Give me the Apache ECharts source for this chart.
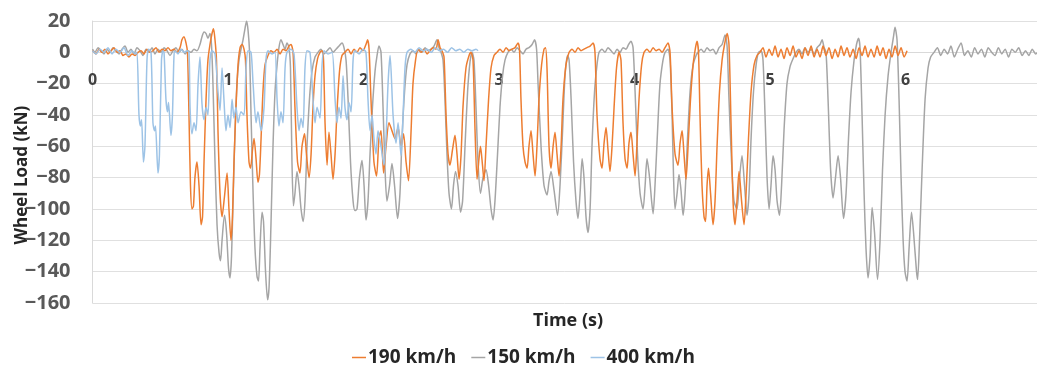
<!DOCTYPE html>
<html>
<head>
<meta charset="utf-8">
<script src="https://cdn.jsdelivr.net/npm/echarts@6/dist/echarts.min.js"></script>
<style>
html,body{margin:0;padding:0;background:#fff;}
#c{width:1037px;height:371px;}
</style>
</head>
<body>
<div id="c"></div>
<script>
// Time (s) and wheel load (kN) pairs
const seriesNames = ['190 km/h', '150 km/h', '400 km/h'];
const yTicks = [-160, -140, -120, -100, -80, -60, -40, -20, 0, 20];
const xTicks = [0, 1, 2, 3, 4, 5, 6];

const load400 = [
[0,1],[0.026,-1],[0.055,2],[0.085,0],[0.114,3],[0.144,-1],[0.173,2],[0.203,0],[0.232,3],[0.262,-2],[0.292,1],[0.314,-1],[0.328,0],
[0.343,-40],[0.354,-47],[0.362,-43],[0.376,-70],[0.387,-60],[0.402,-5],[0.413,2],[0.432,0],
[0.446,-45],[0.458,-50],[0.465,-47],[0.483,-77],[0.494,-65],[0.509,-5],[0.520,1],[0.528,0],
[0.542,-30],[0.554,-38],[0.561,-32],[0.579,-53],[0.590,-40],[0.601,-3],[0.609,1],
[0.631,-1],[0.653,2],[0.675,0],[0.697,1],[0.712,0],
[0.720,-35],[0.734,-52],[0.749,-45],[0.764,-50],[0.779,-20],[0.793,-3],
[0.808,-33],[0.823,-43],[0.838,-35],[0.852,-40],[0.867,-5],[0.882,1],[0.904,-1],
[0.926,-25],[0.941,-37],[0.956,-10],[0.970,-30],[0.985,-50],[1.000,-40],[1.015,-48],[1.030,-30],
[1.044,-42],[1.059,-35],[1.074,-45],[1.096,-38],[1.118,-40],[1.133,-10],[1.148,1],[1.170,0],
[1.185,-20],[1.207,-45],[1.221,-38],[1.244,-50],[1.266,-35],[1.280,-5],[1.295,1],[1.325,-1],[1.347,0],
[1.362,-30],[1.376,-47],[1.391,-38],[1.406,-45],[1.421,-10],[1.435,0],[1.465,2],[1.487,-1],
[1.509,-35],[1.524,-50],[1.539,-42],[1.554,-48],[1.568,-10],[1.583,1],[1.605,0],
[1.627,-30],[1.642,-45],[1.657,-35],[1.679,-42],[1.694,-8],[1.708,1],[1.738,-1],[1.768,0],
[1.790,-30],[1.804,-45],[1.819,-35],[1.834,-42],[1.849,-15],[1.863,-35],[1.878,-43],[1.893,-32],[1.908,-38],[1.923,-5],
[1.937,1],[1.967,-1],[1.996,2],[2.018,0],
[2.033,-30],[2.048,-50],[2.063,-40],[2.077,-55],[2.092,-65],[2.107,-50],[2.129,-60],[2.151,-72],[2.166,-55],[2.181,-20],[2.196,-2],
[2.218,-40],[2.240,-58],[2.255,-45],[2.277,-66],[2.292,-40],[2.306,-10],[2.321,0],
[2.35,2],[2.38,0],[2.41,3],[2.44,1],[2.47,2],[2.50,0],[2.53,3],[2.56,1],[2.59,2],[2.62,0],[2.65,3],[2.68,1],[2.71,2],[2.74,0],[2.77,2],[2.80,1],[2.83,2],[2.845,1]
];

const load190 = [
[0,1],[0.026,-1],[0.048,2],[0.070,0],[0.092,2],[0.114,-1],[0.137,1],[0.159,3],[0.181,0],[0.203,1],[0.225,-2],[0.247,-1],[0.269,-3],[0.292,-1],[0.314,-2],[0.336,0],[0.358,1],[0.380,-1],[0.402,2],[0.424,0],[0.446,1],[0.469,3],[0.491,0],[0.513,2],[0.535,1],[0.557,3],[0.579,1],[0.601,2],[0.624,0],[0.646,3],[0.660,8],[0.675,10],[0.690,6],[0.701,0],
[0.712,-40],[0.723,-85],[0.734,-100],[0.745,-98],[0.756,-80],[0.771,-70],[0.786,-85],[0.801,-110],[0.812,-105],[0.823,-70],[0.838,-30],[0.852,-5],[0.867,5],[0.882,12],[0.893,15],[0.904,8],[0.915,-5],
[0.926,-50],[0.941,-90],[0.956,-105],[0.974,-92],[0.993,-77],[1.007,-100],[1.022,-120],[1.033,-105],[1.044,-70],[1.059,-35],[1.074,-8],[1.089,3],[1.103,5],[1.118,2],[1.129,-5],
[1.140,-40],[1.155,-70],[1.166,-74],[1.181,-62],[1.192,-55],[1.207,-68],[1.221,-83],[1.232,-78],[1.244,-55],[1.258,-25],[1.273,-8],[1.295,-2],[1.317,1],[1.339,0],[1.362,2],[1.384,-1],[1.406,2],[1.428,1],[1.450,4],[1.465,5],[1.480,0],
[1.494,-35],[1.513,-70],[1.531,-77],[1.546,-60],[1.565,-52],[1.579,-65],[1.598,-80],[1.613,-65],[1.627,-35],[1.642,-15],[1.661,-4],[1.679,0],[1.694,1],[1.705,-5],
[1.716,-45],[1.731,-72],[1.745,-51],[1.760,-65],[1.775,-81],[1.790,-65],[1.804,-38],[1.823,-12],[1.841,-2],[1.863,0],[1.886,2],[1.908,-1],[1.930,2],[1.952,0],[1.974,3],[1.996,1],[2.018,5],[2.030,8],[2.041,2],
[2.055,-30],[2.077,-70],[2.096,-79],[2.114,-55],[2.129,-50],[2.148,-77],[2.166,-60],[2.188,-45],[2.210,-50],[2.232,-55],[2.255,-48],[2.277,-60],[2.295,-52],[2.314,-70],[2.332,-82],[2.351,-50],[2.365,-20],[2.384,-5],[2.402,2],
[2.424,0],[2.446,2],[2.469,-1],[2.491,1],[2.513,3],[2.535,2],[2.550,8],[2.565,3],[2.579,1],[2.594,-3],
[2.609,-40],[2.624,-65],[2.638,-72],[2.657,-62],[2.675,-53],[2.690,-65],[2.705,-81],[2.720,-65],[2.734,-35],[2.756,-10],[2.779,-2],[2.793,0],[2.808,-5],
[2.823,-50],[2.838,-81],[2.852,-68],[2.863,-60],[2.878,-72],[2.889,-82],[2.904,-60],[2.923,-30],[2.941,-10],[2.963,-2],[2.985,0],
[3.007,2],[3.030,0],[3.052,3],[3.074,1],[3.096,2],[3.118,3],[3.140,6],[3.151,2],
[3.162,-30],[3.177,-60],[3.192,-70],[3.207,-74],[3.221,-60],[3.236,-50],[3.251,-65],[3.266,-79],[3.280,-60],[3.295,-30],[3.314,-8],[3.332,2],[3.343,3],[3.354,-10],
[3.369,-60],[3.384,-74],[3.399,-60],[3.413,-51],[3.428,-65],[3.443,-79],[3.458,-60],[3.472,-30],[3.494,-8],[3.517,0],
[3.539,2],[3.561,0],[3.583,3],[3.605,1],[3.627,2],[3.649,3],[3.672,4],[3.694,6],[3.708,0],
[3.723,-40],[3.745,-68],[3.760,-74],[3.775,-58],[3.790,-48],[3.804,-62],[3.819,-76],[3.834,-60],[3.849,-35],[3.867,-10],[3.886,0],[3.900,-5],
[3.915,-45],[3.930,-68],[3.945,-74],[3.959,-58],[3.974,-51],[3.989,-65],[4.004,-79],[4.018,-58],[4.033,-30],[4.052,-8],[4.070,0],
[4.092,2],[4.114,0],[4.137,3],[4.159,1],[4.181,2],[4.203,0],[4.225,3],[4.247,6],[4.262,0],
[4.277,-35],[4.299,-65],[4.321,-72],[4.336,-58],[4.351,-50],[4.365,-65],[4.380,-81],[4.395,-60],[4.413,-30],[4.432,-8],[4.450,3],[4.461,7],[4.472,0],
[4.483,-40],[4.498,-85],[4.513,-105],[4.524,-108],[4.535,-85],[4.546,-74],[4.561,-90],[4.579,-110],[4.594,-95],[4.609,-60],[4.627,-25],[4.646,-5],[4.664,5],[4.683,12],[4.697,5],
[4.712,-45],[4.727,-95],[4.742,-110],[4.756,-95],[4.771,-76],[4.790,-95],[4.808,-110],[4.823,-90],[4.841,-55],[4.860,-25],[4.882,-8],[4.904,-2],[4.926,0],
[4.948,3],[4.970,-3],[4.993,2],[5.015,-2],[5.037,4],[5.059,-3],[5.081,2],[5.103,-4],[5.125,3],[5.148,-2],[5.170,4],[5.192,-3],[5.214,1],[5.236,-4],[5.258,3],[5.280,-2],[5.303,4],[5.325,-3],[5.347,2],[5.369,-3],[5.391,4],[5.413,-2],[5.435,3],[5.458,-4],[5.480,2],[5.502,-3],[5.524,4],[5.546,-2],[5.568,3],[5.590,-3],[5.613,2],[5.635,-4],[5.657,3],[5.679,-2],[5.701,4],[5.723,-3],[5.745,2],[5.768,-3],[5.790,4],[5.812,-2],[5.834,3],[5.856,-4],[5.878,2],[5.900,-3],[5.923,4],[5.945,-2],[5.967,3],[5.989,-3],[6.011,1]
];

const load150 = [
[0,2],[0.018,0],[0.041,3],[0.063,1],[0.085,-1],[0.107,2],[0.129,0],[0.151,3],[0.173,1],[0.196,-1],[0.218,2],[0.240,4],[0.262,0],[0.284,2],[0.306,-1],[0.328,3],[0.351,1],[0.373,-2],[0.395,2],[0.417,0],[0.439,3],[0.461,-1],[0.483,2],[0.506,0],[0.528,3],[0.550,1],[0.572,-2],[0.594,1],[0.616,3],[0.638,0],[0.660,2],[0.683,-1],[0.705,1],[0.727,0],[0.749,2],[0.771,1],[0.793,5],[0.808,10],[0.823,13],[0.838,12],[0.852,9],[0.867,12],[0.878,5],
[0.889,-20],[0.904,-70],[0.919,-110],[0.934,-128],[0.945,-133],[0.956,-120],[0.974,-104],[0.989,-115],[1.004,-138],[1.015,-144],[1.026,-130],[1.037,-95],[1.052,-50],[1.066,-20],[1.081,-5],[1.096,2],[1.111,8],[1.125,15],[1.137,20],[1.148,14],[1.159,0],
[1.170,-40],[1.185,-90],[1.199,-125],[1.214,-143],[1.225,-146],[1.236,-125],[1.251,-102],[1.262,-108],[1.277,-140],[1.292,-158],[1.303,-150],[1.317,-110],[1.332,-60],[1.347,-25],[1.362,-8],[1.376,3],[1.391,8],[1.406,5],[1.421,2],[1.435,6],[1.450,3],[1.461,-10],
[1.472,-70],[1.483,-98],[1.494,-90],[1.509,-76],[1.524,-85],[1.539,-100],[1.554,-108],[1.568,-95],[1.583,-60],[1.601,-30],[1.620,-12],[1.642,-3],[1.664,0],[1.686,2],[1.708,-1],[1.731,1],[1.753,3],[1.775,0],[1.797,2],[1.819,4],[1.841,6],[1.856,3],[1.871,-5],
[1.886,-30],[1.904,-70],[1.923,-95],[1.937,-101],[1.952,-100],[1.970,-80],[1.989,-69],[2.004,-85],[2.018,-107],[2.033,-95],[2.048,-65],[2.066,-35],[2.085,-12],[2.100,-2],[2.114,4],[2.129,0],
[2.144,-35],[2.159,-75],[2.173,-95],[2.192,-85],[2.210,-71],[2.229,-85],[2.251,-106],[2.269,-90],[2.284,-55],[2.303,-25],[2.321,-8],[2.343,-1],[2.365,1],[2.387,-1],[2.410,2],[2.432,0],[2.454,3],[2.476,1],[2.498,2],[2.520,4],[2.542,8],[2.557,3],[2.572,0],[2.587,-5],
[2.601,-30],[2.616,-65],[2.631,-90],[2.649,-100],[2.664,-85],[2.679,-76],[2.697,-85],[2.716,-102],[2.731,-95],[2.749,-60],[2.768,-25],[2.786,-6],[2.801,0],[2.815,-5],
[2.830,-35],[2.845,-70],[2.863,-90],[2.882,-80],[2.904,-75],[2.923,-85],[2.941,-100],[2.956,-107],[2.970,-95],[2.989,-65],[3.007,-35],[3.026,-15],[3.044,-5],[3.066,0],
[3.089,2],[3.111,0],[3.133,3],[3.155,1],[3.177,-1],[3.199,2],[3.221,3],[3.244,5],[3.262,8],[3.277,2],
[3.288,-20],[3.310,-60],[3.332,-85],[3.354,-91],[3.369,-82],[3.384,-76],[3.406,-88],[3.432,-104],[3.450,-85],[3.469,-50],[3.487,-15],[3.506,-2],[3.517,-5],
[3.532,-30],[3.550,-70],[3.568,-95],[3.583,-106],[3.598,-90],[3.613,-68],[3.627,-80],[3.642,-105],[3.657,-115],[3.672,-100],[3.686,-60],[3.705,-25],[3.723,-8],[3.738,0],
[3.760,2],[3.782,0],[3.804,3],[3.827,1],[3.849,-1],[3.871,2],[3.893,0],[3.915,3],[3.937,2],[3.956,5],[3.974,7],[3.989,3],
[4.004,-25],[4.022,-65],[4.041,-90],[4.063,-100],[4.078,-85],[4.092,-68],[4.111,-80],[4.126,-95],[4.137,-103],[4.151,-85],[4.170,-50],[4.188,-20],[4.210,-5],[4.225,0],[4.247,2],[4.262,-5],
[4.277,-40],[4.288,-80],[4.299,-100],[4.314,-90],[4.328,-78],[4.343,-88],[4.358,-104],[4.373,-90],[4.391,-55],[4.410,-25],[4.432,-8],[4.454,-2],[4.469,0],
[4.491,2],[4.513,0],[4.535,3],[4.557,1],[4.579,2],[4.601,-1],[4.624,3],[4.646,5],[4.668,11],[4.683,4],
[4.697,-30],[4.716,-70],[4.734,-95],[4.756,-100],[4.775,-80],[4.793,-66],[4.812,-85],[4.830,-104],[4.845,-90],[4.860,-55],[4.878,-25],[4.897,-8],[4.915,0],[4.934,1],[4.948,-5],
[4.963,-40],[4.978,-80],[4.993,-100],[5.007,-85],[5.022,-66],[5.037,-75],[5.052,-95],[5.070,-104],[5.085,-85],[5.103,-50],[5.125,-20],[5.148,-9],[5.170,-4],[5.192,0],
[5.214,2],[5.236,-1],[5.258,3],[5.280,0],[5.303,2],[5.325,-1],[5.347,3],[5.369,5],[5.384,8],[5.399,3],[5.413,0],
[5.428,-30],[5.447,-75],[5.465,-93],[5.483,-80],[5.502,-66],[5.520,-80],[5.542,-106],[5.561,-90],[5.579,-55],[5.598,-25],[5.620,-5],[5.638,5],[5.653,9],[5.664,3],
[5.679,-40],[5.694,-90],[5.708,-125],[5.723,-144],[5.738,-130],[5.753,-99],[5.771,-115],[5.793,-145],[5.812,-120],[5.830,-75],[5.849,-40],[5.871,-15],[5.893,0],[5.911,10],[5.922,16],[5.937,8],
[5.952,-30],[5.967,-80],[5.982,-120],[5.996,-140],[6.011,-146],[6.026,-125],[6.044,-102],[6.059,-115],[6.081,-140],[6.089,-145],[6.103,-120],[6.122,-75],[6.144,-30],[6.166,-10],[6.185,-3],
[6.21,0],[6.235,3],[6.26,-2],[6.285,2],[6.31,-1],[6.335,4],[6.36,-3],[6.385,2],[6.41,6],[6.435,-2],[6.46,1],[6.485,-3],[6.51,3],[6.535,-1],[6.56,2],[6.585,-3],[6.61,3],[6.635,0],[6.66,-2],[6.685,3],[6.71,-1],[6.735,2],[6.76,-3],[6.785,2],[6.81,0],[6.835,3],[6.86,-2],[6.885,1],[6.91,-2],[6.935,2],[6.96,-1],[6.975,0]
];

const colors = {'190 km/h': '#ED7D31', '150 km/h': '#A5A5A5', '400 km/h': '#9DC3E6'};
const FONT = 'Open Sans';

const GRID_TOP = 21, GRID_BOTTOM = 68, H = 371;
const plotH = H - GRID_TOP - GRID_BOTTOM;
// distance from the bottom of the plot up to the value 0 (axis crosses at zero)
const zeroOffset = -plotH * (0 - yTicks[0]) / (yTicks[yTicks.length - 1] - yTicks[0]);

const chart = echarts.init(document.getElementById('c'), null, {renderer: 'canvas'});

function mkSeries(name, data, z) {
  return {
    name: name, type: 'line', data: data, showSymbol: false, symbol: 'none',
    smooth: 0.25, z: z,
    lineStyle: {color: colors[name], width: 1.5},
    itemStyle: {color: colors[name]}
  };
}

chart.setOption({
  animation: false,
  backgroundColor: '#ffffff',
  grid: {left: 92.5, right: 0, top: GRID_TOP, bottom: GRID_BOTTOM, containLabel: false, outerBoundsMode: 'none'},
  title: {
    text: 'Time (s)', left: 533, top: 312, padding: 0,
    textStyle: {fontFamily: FONT, fontSize: 18, fontWeight: 'bold', color: '#262626'}
  },
  legend: {
    data: seriesNames, left: 352, top: 348, padding: 0,
    icon: 'rect', itemWidth: 14, itemHeight: 1.5, itemGap: 15,
    textStyle: {fontFamily: FONT, fontSize: 19, fontWeight: 'bold', color: '#262626', padding: [0, 0, 0, -3]}
  },
  xAxis: {
    type: 'value', min: xTicks[0], max: 6.97, interval: 1,
    position: 'bottom', offset: zeroOffset,
    axisLine: {onZero: false, lineStyle: {color: '#d9d9d9', width: 1}},
    axisTick: {show: false},
    splitLine: {show: false},
    axisLabel: {
      color: '#404040', fontFamily: FONT, fontSize: 16, fontWeight: 'bold', margin: 20,
      showMaxLabel: false,
      formatter: v => (xTicks.indexOf(v) >= 0 ? String(v) : '')
    }
  },
  yAxis: {
    type: 'value', min: yTicks[0], max: yTicks[yTicks.length - 1], interval: 20,
    axisLine: {show: true, lineStyle: {color: '#d9d9d9', width: 1}},
    axisTick: {show: false},
    splitLine: {lineStyle: {color: '#e0e0e0', width: 1}},
    axisLabel: {
      color: '#595959', fontFamily: FONT, fontSize: 20, fontWeight: 'bold', margin: 22,
      formatter: v => String(v).replace('-', '\u2212')
    },
    name: 'Wheel Load (kN)', nameLocation: 'middle', nameGap: 62, nameMoveOverlap: false,
    nameTextStyle: {fontFamily: FONT, fontSize: 17, fontWeight: 'bold', color: '#262626', padding: [0, 26, 0, 0]}
  },
  series: [
    mkSeries('150 km/h', load150, 2),
    mkSeries('190 km/h', load190, 3),
    mkSeries('400 km/h', load400, 4)
  ]
});
</script>
</body>
</html>
